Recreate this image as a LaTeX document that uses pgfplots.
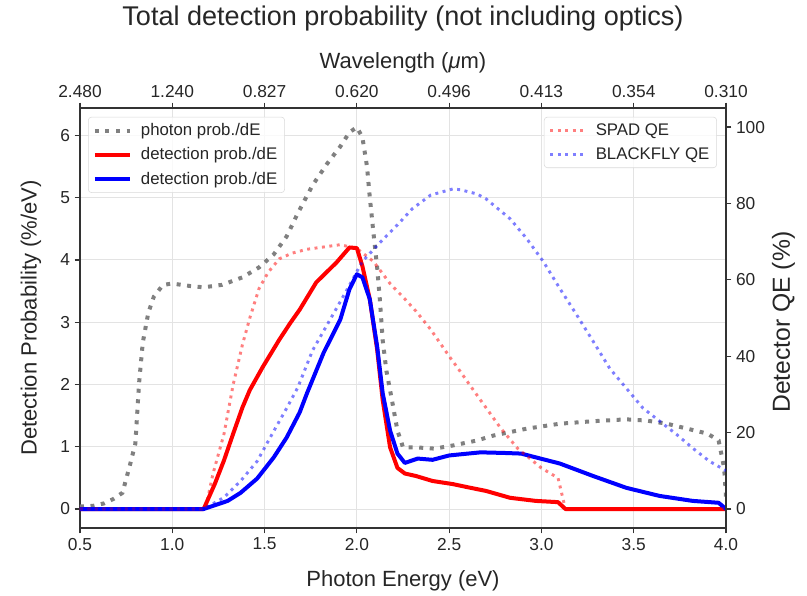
\documentclass[border=0pt]{standalone}
\usepackage{fontspec}
\setmainfont{Liberation Sans}
\usepackage{pgfplots}
\usepackage{pgfplotstable}
\pgfplotsset{compat=1.18}

\definecolor{txt}{gray}{0.15}
\definecolor{gridc}{gray}{0.89}
\definecolor{spine}{gray}{0.2}

% photon probability per eV (%/eV)
\pgfplotstableread{
E v
0.50 0.04
0.57 0.05
0.63 0.09
0.68 0.16
0.73 0.26
0.77 0.70
0.80 1.05
0.81 1.54
0.82 2.02
0.84 2.67
0.87 3.15
0.90 3.41
0.95 3.60
1.00 3.62
1.10 3.58
1.17 3.56
1.27 3.60
1.38 3.72
1.47 3.88
1.55 4.09
1.62 4.38
1.68 4.75
1.76 5.20
1.84 5.55
1.91 5.82
1.96 6.05
2.00 6.13
2.03 5.97
2.055 5.50
2.07 5.01
2.09 4.43
2.11 3.88
2.125 3.35
2.14 2.71
2.16 2.22
2.19 1.75
2.22 1.26
2.25 0.99
2.32 0.99
2.42 0.97
2.52 1.02
2.65 1.10
2.74 1.18
2.92 1.29
3.10 1.37
3.28 1.41
3.46 1.44
3.57 1.42
3.68 1.37
3.79 1.29
3.90 1.21
3.96 1.10
3.99 0.66
4.00 0.20
}\photon

% detection probability, SPAD
\pgfplotstableread{
E v
0.50 0
1.17 0
1.23 0.40
1.28 0.78
1.33 1.21
1.38 1.63
1.42 1.91
1.49 2.28
1.58 2.72
1.64 2.99
1.69 3.20
1.78 3.64
1.89 3.96
1.96 4.20
2.00 4.19
2.03 3.90
2.07 3.37
2.11 2.56
2.14 1.75
2.18 0.99
2.22 0.66
2.26 0.57
2.32 0.53
2.41 0.45
2.52 0.40
2.60 0.35
2.70 0.29
2.83 0.18
2.97 0.13
3.09 0.11
3.13 0.00
4.00 0.00
}\detred

% detection probability, BLACKFLY
\pgfplotstableread{
E v
0.50 0
1.17 0
1.30 0.13
1.37 0.26
1.46 0.49
1.55 0.83
1.62 1.15
1.69 1.55
1.73 1.86
1.82 2.51
1.91 3.04
1.96 3.53
2.00 3.77
2.03 3.72
2.07 3.37
2.11 2.61
2.14 1.86
2.18 1.26
2.22 0.89
2.26 0.74
2.33 0.81
2.41 0.79
2.50 0.86
2.67 0.91
2.80 0.90
2.89 0.89
3.10 0.73
3.28 0.53
3.46 0.34
3.64 0.21
3.82 0.13
3.96 0.10
4.00 0.00
}\detblue

% SPAD QE (%)
\pgfplotstableread{
E v
0.50 0
1.18 0
1.22 9.1
1.28 19.6
1.33 32.6
1.38 43.0
1.42 50.0
1.47 57.7
1.52 62.0
1.58 65.5
1.65 67.0
1.73 68.0
1.91 69.2
2.00 68.2
2.09 64.8
2.18 59.0
2.25 55.5
2.32 51.8
2.40 47.0
2.50 40.0
2.56 36.0
2.67 28.5
2.78 21.1
2.87 15.9
3.00 10.7
3.09 8.1
3.12 2.0
3.13 0
4.00 0
}\spad

% BLACKFLY QE (%)
\pgfplotstableread{
E v
0.50 0
1.17 0
1.28 3.0
1.37 7.3
1.46 12.5
1.55 20.4
1.62 26.4
1.68 31.8
1.76 41.5
1.86 50.0
1.95 57.7
2.03 64.8
2.13 70.0
2.22 74.4
2.30 78.6
2.40 82.2
2.52 83.8
2.56 83.6
2.65 82.5
2.70 81.2
2.83 76.0
2.92 70.8
3.01 64.8
3.10 57.7
3.19 50.9
3.28 43.9
3.37 36.8
3.46 31.6
3.55 26.4
3.64 23.0
3.73 19.6
3.82 15.9
3.91 12.5
4.00 10.0
}\blackfly

\pgfplotsset{
  base/.style={
    scale only axis, width=484.5pt, height=315pt,
    xmin=0.5, xmax=4.0,
    xtick={0.5,1.0,1.5,2.0,2.5,3.0,3.5,4.0},
    axis line style={spine, line width=0.9pt},
    tick style={spine, line width=0.9pt},
    tick align=outside, major tick length=4pt,
    ticklabel style={font=\fontsize{13}{15}\selectfont, text=txt},
    label style={font=\fontsize{16.5}{19}\selectfont, text=txt},
    /pgf/number format/assume math mode=true,
    legend cell align=left,
    legend image code/.code={\draw[##1] (0pt,0pt) -- (26pt,0pt); \path (31pt,0pt);},
    legend style={font=\fontsize{12.6}{15}\selectfont, text=txt,
      draw=gray!30, rounded corners=2.5pt, fill=white,
      fill opacity=0.8, text opacity=1, inner xsep=3.5pt, inner ysep=3pt,
      row sep=3.4pt},
  },
  gdot/.style={black!50, line width=3pt, line cap=butt, dash pattern=on 3pt off 4.9pt},
  qedot/.style={line width=2.2pt, line cap=butt, dash pattern=on 2.2pt off 3.4pt, draw opacity=0.5},
  solid3/.style={line width=3pt, line join=round},
}

\begin{document}
\begin{tikzpicture}
\begin{axis}[base, name=main,
  axis x line*=bottom, axis y line*=left,
  ymin=-0.305, ymax=6.44, ytick={0,1,2,3,4,5,6},
  xticklabel style={/pgf/number format/fixed, /pgf/number format/fixed zerofill, /pgf/number format/precision=1},
  grid=major, grid style={gridc, line width=0.7pt},
  xlabel={Photon Energy (eV)},
  ylabel={Detection Probability (\%/eV)},
  xlabel style={at={(axis description cs:0.5,-0.126)}, anchor=center},
  ylabel style={at={(axis description cs:-0.076,0.5)}, anchor=center},
  legend style={at={(0.0124,0.979)}, anchor=north west},
]
\addplot[gdot] table[x=E, y=v] {\photon};
\addlegendentry{photon prob./dE}
\addplot[red, solid3] table[x=E, y=v] {\detred};
\addlegendentry{detection prob./dE}
\addplot[blue, solid3] table[x=E, y=v] {\detblue};
\addlegendentry{detection prob./dE}
\end{axis}

\begin{axis}[base, clip mode=individual,
  axis x line*=top, axis y line*=right,
  ymin=-5, ymax=105, ytick={0,20,40,60,80,100},
  xticklabels={2.480,1.240,0.827,0.620,0.496,0.413,0.354,0.310},
  xlabel={Wavelength ({\itshape μ}m)},
  ylabel={Detector QE (\%)},
  xlabel style={at={(axis description cs:0.5,1.107)}, anchor=center},
  ylabel style={at={(axis description cs:1.089,0.49)}, anchor=center, rotate=0, font=\fontsize{18.5}{21}\selectfont},
  legend style={at={(0.986,0.979)}, anchor=north east},
]
\addplot[red, qedot] table[x=E, y=v] {\spad};
\addlegendentry{SPAD QE}
\addplot[blue, qedot] table[x=E, y=v] {\blackfly};
\addlegendentry{BLACKFLY QE}
\node[font=\fontsize{20.3}{24}\selectfont, text=txt] at (rel axis cs:0.5,1.212) {Total detection probability (not including optics)};
\end{axis}
\path (main.south west) ++(-60pt,-51pt) rectangle ++(605.25pt,447pt);
\end{tikzpicture}
\end{document}
